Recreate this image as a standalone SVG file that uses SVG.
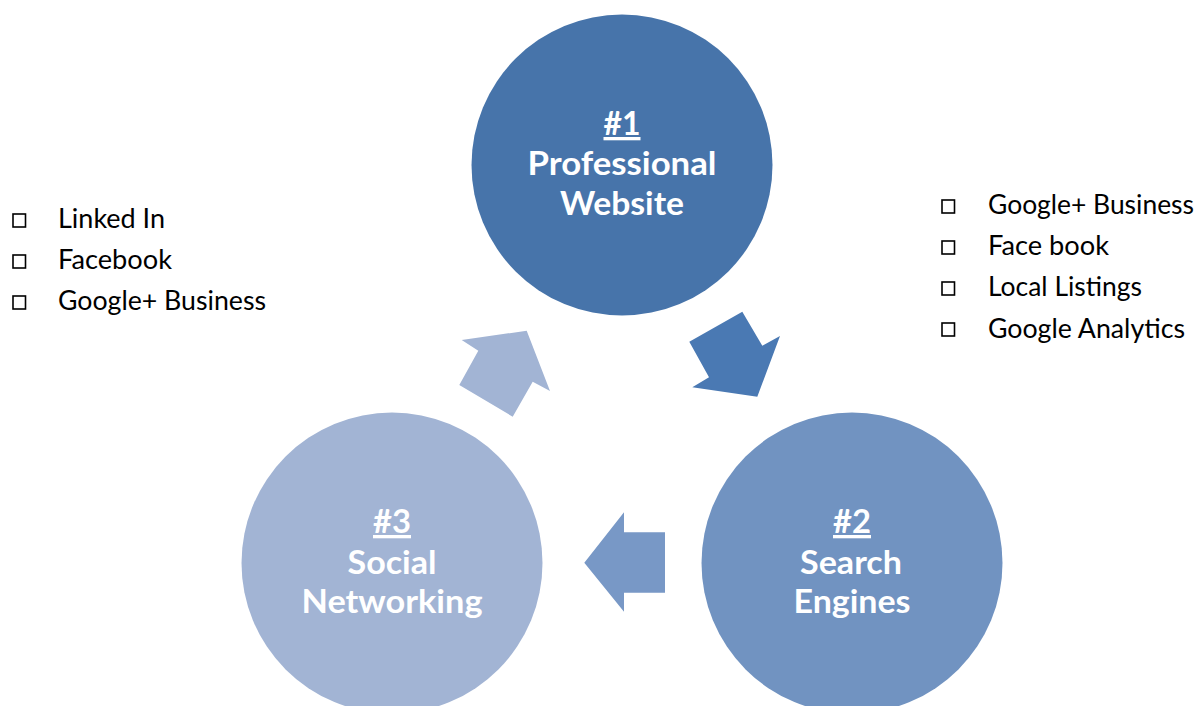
<svg xmlns="http://www.w3.org/2000/svg" width="1203" height="706" viewBox="0 0 1203 706">
<style>
.lbl{font-family:Lato,"Open Sans","Liberation Sans",sans-serif;font-weight:bold;font-size:33px;fill:#ffffff;text-anchor:middle}
.num{text-decoration:underline}
.item{font-family:Lato,"Open Sans","Liberation Sans",sans-serif;font-size:26px;fill:#000000}
.box{fill:none;stroke:#000000;stroke-width:1.6}
</style>
<rect width="1203" height="706" fill="#ffffff"/>
<g id="connectors">
<polygon id="arrow-3-1" points="461.7,340 526.7,330.7 550,391 532.7,381.7 512.7,416.7 459.3,385 478.3,350.7" fill="#A2B4D4"/>
<polygon id="arrow-1-2" points="689.3,341.7 742.3,311.7 762.3,345.7 780,336 757.3,396.7 692.3,387.3 709,377.3" fill="#4A79B3"/>
<polygon id="arrow-2-3" points="584.3,562.7 624,512.3 624,532.3 665,532.3 665,592.7 624,592.7 624,611.7" fill="#7898C6"/>
</g>
<g id="node1">
<circle cx="622" cy="165" r="150.5" fill="#4774AA"/>
<text class="lbl num" x="622" y="135" textLength="37" lengthAdjust="spacingAndGlyphs">#1</text>
<text class="lbl" x="622" y="175" textLength="189" lengthAdjust="spacingAndGlyphs">Professional</text>
<text class="lbl" x="622" y="215" textLength="124" lengthAdjust="spacingAndGlyphs">Website</text>
</g>
<g id="node2">
<circle cx="852" cy="563" r="150.5" fill="#7193C1"/>
<text class="lbl num" x="852" y="533" textLength="38" lengthAdjust="spacingAndGlyphs">#2</text>
<text class="lbl" x="851" y="574" textLength="102" lengthAdjust="spacingAndGlyphs">Search</text>
<text class="lbl" x="852" y="613" textLength="117" lengthAdjust="spacingAndGlyphs">Engines</text>
</g>
<g id="node3">
<circle cx="392" cy="563" r="150.5" fill="#A2B4D4"/>
<text class="lbl num" x="392" y="533" textLength="38" lengthAdjust="spacingAndGlyphs">#3</text>
<text class="lbl" x="392" y="574" textLength="89" lengthAdjust="spacingAndGlyphs">Social</text>
<text class="lbl" x="392" y="613" textLength="181" lengthAdjust="spacingAndGlyphs">Networking</text>
</g>
<g id="list-left">
<rect class="box" x="13" y="214" width="12.5" height="13"/>
<text class="item" x="58" y="228" textLength="107" lengthAdjust="spacingAndGlyphs">Linked In</text>
<rect class="box" x="13" y="255" width="12.5" height="13"/>
<text class="item" x="58" y="269" textLength="114" lengthAdjust="spacingAndGlyphs">Facebook</text>
<rect class="box" x="13" y="296" width="12.5" height="13"/>
<text class="item" x="58" y="310" textLength="208" lengthAdjust="spacingAndGlyphs">Google+ Business</text>
</g>
<g id="list-right">
<rect class="box" x="942" y="200" width="12.5" height="13"/>
<text class="item" x="988" y="214" textLength="206" lengthAdjust="spacingAndGlyphs">Google+ Business</text>
<rect class="box" x="942" y="241" width="12.5" height="13"/>
<text class="item" x="988" y="255" textLength="121" lengthAdjust="spacingAndGlyphs">Face book</text>
<rect class="box" x="942" y="282" width="12.5" height="13"/>
<text class="item" x="988" y="296" textLength="154" lengthAdjust="spacingAndGlyphs">Local Listings</text>
<rect class="box" x="942" y="323" width="12.5" height="13"/>
<text class="item" x="988" y="338" textLength="197" lengthAdjust="spacingAndGlyphs">Google Analytics</text>
</g>
</svg>
